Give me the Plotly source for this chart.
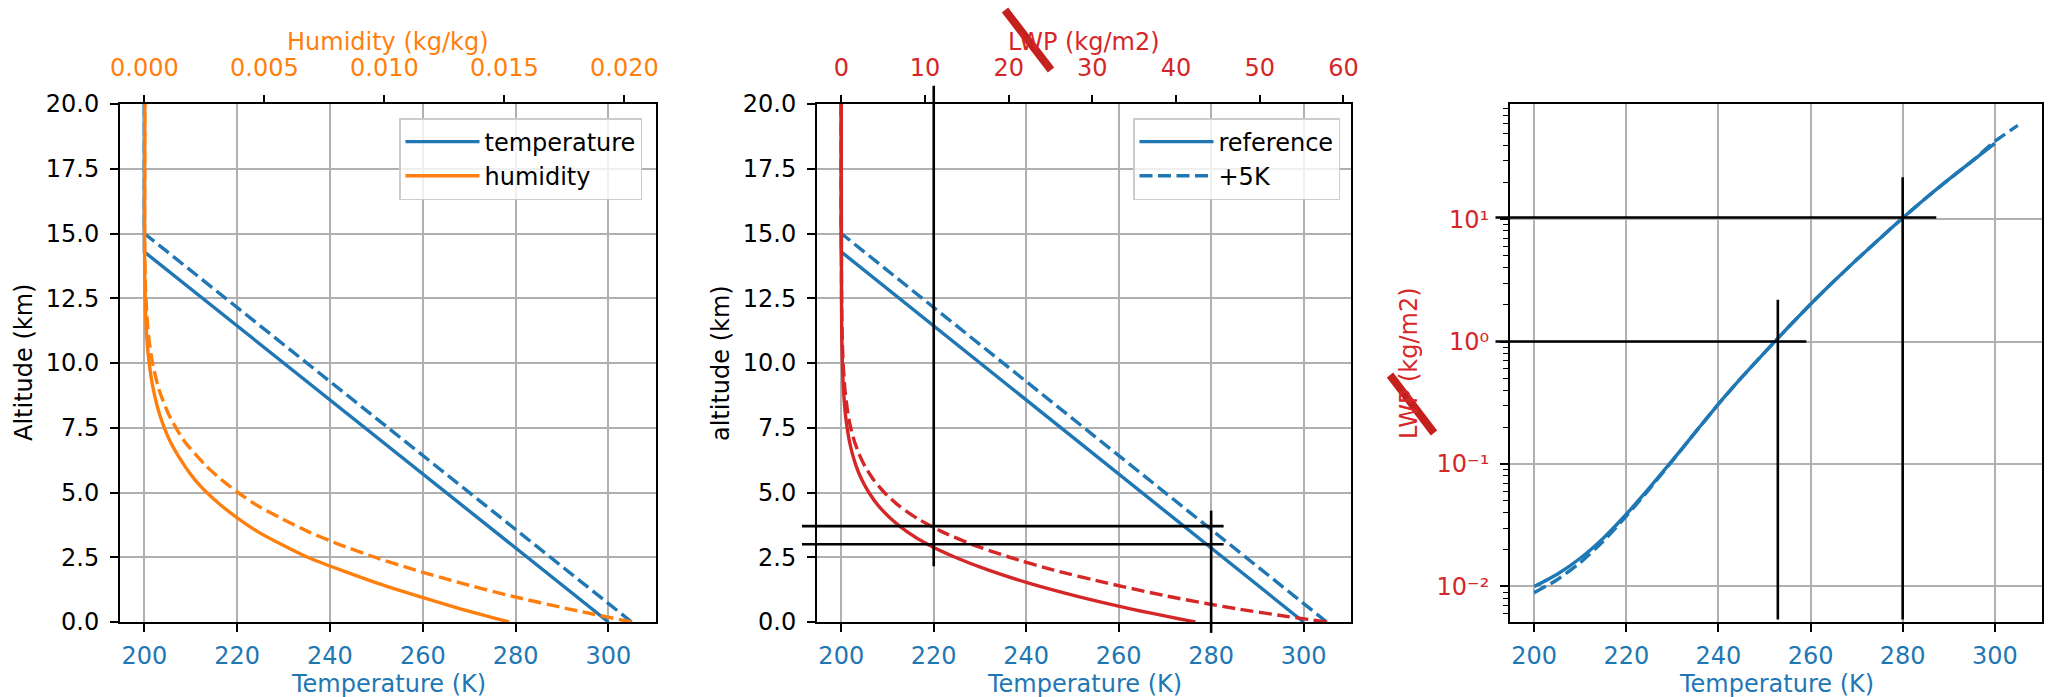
import plotly.graph_objects as go
import math

# ---------------- data ----------------
# temperature profiles (altitude km -> K)
z_temp_ref = [0.0, 14.29, 20.0]
T_ref = [300.0, 200.0, 200.0]
z_temp_warm = [0.0, 15.0, 20.0]
T_warm = [305.0, 200.0, 200.0]

# humidity profiles (altitude km -> kg/kg)
z_hum_ref = [0, 0.5, 1, 1.5, 2, 2.5, 3, 3.5, 4, 4.5, 5, 5.5, 6, 7, 8, 9, 10, 11, 12, 13,
             14.3, 17, 20]
h_ref = [0.0152, 0.0132, 0.0114, 0.0097, 0.0082, 0.0068, 0.0057, 0.0047, 0.0039, 0.0032,
         0.0026, 0.0021, 0.0017, 0.00106, 0.00064, 0.00037, 0.0002, 0.0001, 0.00005,
         0.000022, 0.000008, 0.00001, 0.000016]
z_hum_warm = [0, 0.5, 1, 1.5, 2, 2.5, 3, 3.5, 4, 4.5, 5, 5.5, 6, 7, 8, 9, 10, 11, 12, 13,
              14, 15, 17.5, 20]
h_warm = [0.0203, 0.0177, 0.0153, 0.0132, 0.0113, 0.0096, 0.0081, 0.0068, 0.0057, 0.0047,
          0.0039, 0.0032, 0.0026, 0.00165, 0.00102, 0.0006, 0.00034, 0.00018, 0.000095,
          0.000045, 0.00002, 0.000009, 0.000012, 0.000016]

# water path above each level (altitude km -> kg/m2)
z_lwp_ref = [0, 0.5, 1, 1.5, 2, 2.5, 3, 3.5, 4, 4.5, 5, 5.5, 6, 6.5, 7, 7.5, 8, 9, 10, 11,
             12, 13, 14.29, 16, 20]
lwp_ref = [42.3, 34.7, 28.1, 22.4, 17.6, 13.6, 10.3, 7.8, 5.9, 4.4, 3.3, 2.44, 1.80, 1.32,
           0.96, 0.70, 0.50, 0.26, 0.133, 0.068, 0.036, 0.022, 0.0126, 0.0075, 0.0]
z_lwp_warm = [0, 0.25, 0.5, 0.714, 1, 1.5, 2, 2.5, 3, 3.5, 4, 4.5, 5, 5.5, 6, 6.5, 7, 7.5,
              8, 9, 10, 11, 12, 13, 15, 17, 20]
lwp_warm = [58.0, 52.5, 47.5, 43.6, 38.9, 31.8, 25.4, 20.1, 15.6, 11.95, 9.07, 6.84, 5.14,
            3.84, 2.85, 2.11, 1.55, 1.13, 0.82, 0.43, 0.22, 0.113, 0.057, 0.031, 0.013,
            0.006, 0.0]

# LWP versus temperature (K -> kg/m2), log scale
T_curve_ref = [200, 205, 210, 215, 220, 225, 230, 235, 240, 245, 250, 255, 260, 265, 270,
               275, 280, 285, 290, 295, 300]
lwpT_ref = [0.0100, 0.0126, 0.0170, 0.0248, 0.0389, 0.0638, 0.107, 0.182, 0.309, 0.507,
            0.813, 1.29, 2.02, 3.09, 4.66, 6.92, 10.2, 14.8, 21.1, 29.6, 41.5]
T_curve_warm = [200, 205, 210, 215, 220, 225, 230, 235, 240, 245, 250, 255, 260, 265, 270,
                275, 280, 285, 290, 295, 300, 305]
lwpT_warm = [0.0089, 0.01135, 0.01567, 0.0234, 0.0376, 0.0624, 0.106, 0.182, 0.309, 0.507,
             0.813, 1.29, 2.02, 3.09, 4.66, 6.92, 10.2, 14.8, 21.1, 29.6, 43.2, 58.2]

# black guide lines
p2_hlines_z = [3.0, 3.7]          # altitude, spanning T 191.5 .. 282.7
p2_hline_T = [191.5, 282.7]
p2_vlines = [(220.0, 2.15, 20.7), (280.0, -0.42, 4.3)]   # (T, z0, z1)
p3_hlines = [(10.3, 191.6, 287.3), (1.0, 191.6, 259.1)]   # (LWP, T0, T1)
p3_vlines = [(252.9, 10 ** -2.27, 2.2), (280.0, 10 ** -2.27, 22.0)]  # (T, lwp0, lwp1)

xticks_T = [200, 220, 240, 260, 280, 300]
yticks_alt = [0, 2.5, 5, 7.5, 10, 12.5, 15, 17.5, 20]
xticks_hum = [0.0, 0.005, 0.010, 0.015, 0.020]
xticks_lwp = [0, 10, 20, 30, 40, 50, 60]
yticks_log = [0.01, 0.1, 1, 10]
yticktext_log = ["10\u207b\u00b2", "10\u207b\u00b9", "10\u2070", "10\u00b9"]

# ---------------- style ----------------
W, H = 2053, 697
BLUE, ORANGE, RED = "#1f77b4", "#ff7f0e", "#d62728"
FONT = "DejaVu Sans"
FS = 24
LW = 3.4
DASH = "13px,5.5px"
GRID = "#b0b0b0"

def px_x(p):
    return p / W

def px_y(p):
    return 1 - p / H

P1 = (120, 656)
P2 = (817, 1351)
P3 = (1510, 2042)
TOP, BOT = 104, 622

dom1 = [px_x(P1[0]), px_x(P1[1])]
dom2 = [px_x(P2[0]), px_x(P2[1])]
dom3 = [px_x(P3[0]), px_x(P3[1])]
ydom = [px_y(BOT), px_y(TOP)]

tmin, tmax = min(T_ref + T_warm), max(T_ref + T_warm)
tpad = 0.05 * (tmax - tmin)
XR = [tmin - tpad, tmax + tpad]
hmax = max(h_warm)
HR = [-0.05 * hmax, 1.05 * hmax]
lmax = max(lwp_warm)
LR = [-0.05 * lmax, 1.05 * lmax]
YR = [0, 20]
LOGR = [-2.29, 1.94]

fig = go.Figure()

# panel 1
fig.add_trace(go.Scatter(x=T_ref, y=z_temp_ref, mode="lines", name="temperature",
                         line=dict(color=BLUE, width=LW), xaxis="x", yaxis="y", legend="legend"))
fig.add_trace(go.Scatter(x=T_warm, y=z_temp_warm, mode="lines", showlegend=False,
                         line=dict(color=BLUE, width=LW, dash=DASH), xaxis="x", yaxis="y"))
fig.add_trace(go.Scatter(x=h_ref, y=z_hum_ref, mode="lines", name="humidity", line_shape="spline",
                         line=dict(color=ORANGE, width=LW, smoothing=0.6), xaxis="x4", yaxis="y",
                         legend="legend"))
fig.add_trace(go.Scatter(x=h_warm, y=z_hum_warm, mode="lines", showlegend=False, line_shape="spline",
                         line=dict(color=ORANGE, width=LW, dash=DASH, smoothing=0.6),
                         xaxis="x4", yaxis="y"))

# panel 2
fig.add_trace(go.Scatter(x=T_ref, y=z_temp_ref, mode="lines", name="reference",
                         line=dict(color=BLUE, width=LW), xaxis="x2", yaxis="y2", legend="legend2"))
fig.add_trace(go.Scatter(x=T_warm, y=z_temp_warm, mode="lines", name="+5K",
                         line=dict(color=BLUE, width=LW, dash=DASH), xaxis="x2", yaxis="y2",
                         legend="legend2"))
fig.add_trace(go.Scatter(x=lwp_ref, y=z_lwp_ref, mode="lines", showlegend=False, line_shape="spline",
                         line=dict(color=RED, width=LW, smoothing=0.6), xaxis="x5", yaxis="y2"))
fig.add_trace(go.Scatter(x=lwp_warm, y=z_lwp_warm, mode="lines", showlegend=False, line_shape="spline",
                         line=dict(color=RED, width=LW, dash=DASH, smoothing=0.6),
                         xaxis="x5", yaxis="y2"))

# panel 3
fig.add_trace(go.Scatter(x=T_curve_ref, y=lwpT_ref, mode="lines", showlegend=False, line_shape="spline",
                         line=dict(color=BLUE, width=LW, smoothing=0.6), xaxis="x3", yaxis="y3"))
fig.add_trace(go.Scatter(x=T_curve_warm, y=lwpT_warm, mode="lines", showlegend=False, line_shape="spline",
                         line=dict(color=BLUE, width=LW, dash=DASH, smoothing=0.6),
                         xaxis="x3", yaxis="y3"))

# ---------------- guide lines ----------------
def fx(T):
    return (T - XR[0]) / (XR[1] - XR[0])

def fz(z):
    return (z - YR[0]) / (YR[1] - YR[0])

def flog(v):
    return (math.log10(v) - LOGR[0]) / (LOGR[1] - LOGR[0])

shapes = []
BL = dict(color="black", width=2.6)
for zz in p2_hlines_z:
    shapes.append(dict(type="line", xref="x2 domain", yref="y2 domain",
                       x0=fx(p2_hline_T[0]), x1=fx(p2_hline_T[1]), y0=fz(zz), y1=fz(zz), line=BL))
for T, z0, z1 in p2_vlines:
    shapes.append(dict(type="line", xref="x2 domain", yref="y2 domain",
                       x0=fx(T), x1=fx(T), y0=fz(z0), y1=fz(z1), line=BL))
for v, T0, T1 in p3_hlines:
    shapes.append(dict(type="line", xref="x3 domain", yref="y3 domain",
                       x0=fx(T0), x1=fx(T1), y0=flog(v), y1=flog(v), line=BL))
for T, v0, v1 in p3_vlines:
    shapes.append(dict(type="line", xref="x3 domain", yref="y3 domain",
                       x0=fx(T), x1=fx(T), y0=flog(v0), y1=flog(v1), line=BL))

# red strike-through marks
SLASH = dict(color="#c4211c", width=8)
shapes.append(dict(type="line", xref="paper", yref="paper",
                   x0=px_x(1005), y0=px_y(10), x1=px_x(1051), y1=px_y(70), line=SLASH))
shapes.append(dict(type="line", xref="paper", yref="paper",
                   x0=px_x(1390), y0=px_y(375), x1=px_x(1434), y1=px_y(433), line=SLASH))

# ---------------- axes ----------------
common = dict(showline=True, linecolor="black", linewidth=1.9, mirror=True,
              ticks="outside", ticklen=8, tickwidth=1.9, tickcolor="black",
              zeroline=False, showgrid=True, gridcolor=GRID, gridwidth=1.8,
              automargin=False)

def tfont(c):
    return dict(color=c, size=FS, family=FONT)

def xbottom(dom, anchor):
    return dict(common, domain=dom, anchor=anchor, range=XR, tickmode="array",
                tickvals=xticks_T, tickfont=tfont(BLUE), ticklabelstandoff=3)

def yalt(anchor):
    return dict(common, domain=ydom, anchor=anchor, range=YR, tickmode="array",
                tickvals=yticks_alt, tickformat=".1f", tickfont=tfont("black"),
                ticklabelstandoff=6)

top_common = dict(side="top", showline=False, ticks="outside", ticklen=8, tickwidth=1.9,
                  tickcolor="black", showgrid=False, zeroline=False, ticklabelstandoff=9,
                  automargin=False)

fig.update_layout(
    xaxis=xbottom(dom1, "y"),
    xaxis2=xbottom(dom2, "y2"),
    xaxis3=xbottom(dom3, "y3"),
    yaxis=yalt("x"),
    yaxis2=yalt("x2"),
    yaxis3=dict(common, domain=ydom, anchor="x3", type="log", range=LOGR,
                tickmode="array", tickvals=yticks_log, ticktext=yticktext_log,
                tickfont=tfont(RED), ticklabelstandoff=6,
                minor=dict(tickmode="array",
                           tickvals=[m * 10 ** e for e in range(-3, 2) for m in range(2, 10)],
                           ticks="outside", ticklen=5, tickwidth=1.4, tickcolor="black",
                           showgrid=False)),
    xaxis4=dict(top_common, overlaying="x", anchor="y", range=HR, tickmode="array",
                tickvals=xticks_hum, tickformat=".3f", tickfont=tfont(ORANGE)),
    xaxis5=dict(top_common, overlaying="x2", anchor="y2", range=LR, tickmode="array",
                tickvals=xticks_lwp, tickfont=tfont(RED)),
)

# ---------------- titles ----------------
def ann(text, x, y, color, angle=0):
    return dict(text=text, x=px_x(x), y=px_y(y), xref="paper", yref="paper",
                showarrow=False, xanchor="center", yanchor="middle", textangle=angle,
                borderpad=0, font=dict(color=color, size=FS, family=FONT))

c1, c2, c3 = sum(P1) / 2, sum(P2) / 2, sum(P3) / 2
cy = (TOP + BOT) / 2
annotations = [
    ann("Humidity (kg/kg)", c1, 42, ORANGE),
    ann("Temperature (K)", c1, 684, BLUE),
    ann("Altitude (km)", 24, cy, "black", -90),
    ann("LWP (kg/m2)", c2, 42, RED),
    ann("Temperature (K)", c2, 684, BLUE),
    ann("altitude (km)", 721, cy, "black", -90),
    ann("Temperature (K)", c3, 684, BLUE),
    ann("LWP (kg/m2)", 1409, cy, RED, -90),
]

leg = dict(xanchor="right", yanchor="top", y=px_y(118),
           font=dict(size=FS, family=FONT, color="black"),
           bgcolor="rgba(255,255,255,0.8)", bordercolor="#cccccc", borderwidth=1.5,
           itemwidth=74, tracegroupgap=0)

fig.update_layout(
    width=W, height=H, margin=dict(l=0, r=0, t=0, b=0),
    paper_bgcolor="white", plot_bgcolor="white",
    font=dict(family=FONT, size=FS, color="black"),
    shapes=shapes, annotations=annotations,
    legend=dict(leg, x=px_x(642)),
    legend2=dict(leg, x=px_x(1340)),
    showlegend=True,
)

fig.write_html("out.html")
